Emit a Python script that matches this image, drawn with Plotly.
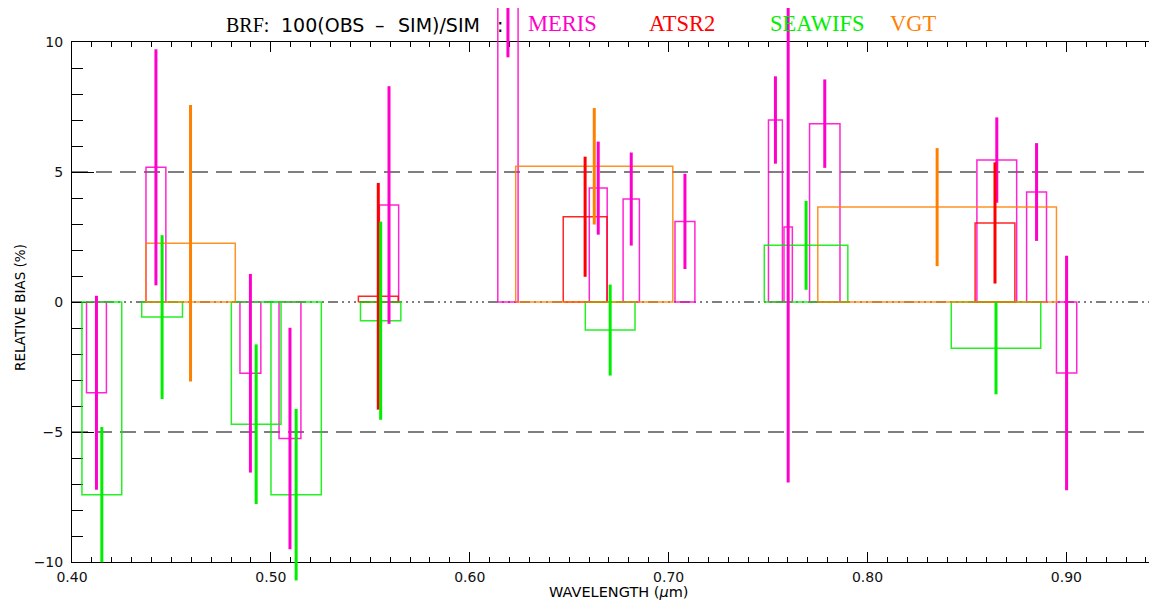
import plotly.graph_objects as go

# ---------------- data ----------------
# MERIS: band centre (um), band width (um), relative bias (%), 1-sigma error (%)
meris_wl = [0.4123, 0.4422, 0.4897, 0.5096, 0.5594, 0.6192, 0.6646, 0.6812,
            0.7082, 0.7537, 0.7601, 0.7785, 0.8650, 0.8850, 0.9001]
meris_bw = [0.0100, 0.0100, 0.0105, 0.0110, 0.0097, 0.0102, 0.0090, 0.0082,
            0.0100, 0.0070, 0.0042, 0.0153, 0.0200, 0.0100, 0.0102]
meris_bias = [-3.49, 5.18, -2.74, -5.25, 3.73, 11.44, 4.38, 3.96,
              3.10, 7.00, 2.88, 6.86, 5.46, 4.23, -2.73]
meris_err = [3.73, 4.54, 3.82, 4.26, 4.57, 2.03, 1.79, 1.79,
             1.83, 1.68, 9.82, 1.70, 1.64, 1.88, 4.51]

# ATSR2
atsr_wl = [0.5540, 0.6580, 0.8641]
atsr_bw = [0.0200, 0.0220, 0.0200]
atsr_bias = [0.22, 3.28, 3.04]
atsr_err = [4.36, 2.31, 2.33]

# SeaWiFS
seawifs_wl = [0.4150, 0.4453, 0.4926, 0.5127, 0.5552, 0.6706, 0.7691, 0.8646]
seawifs_bw = [0.0200, 0.0205, 0.0250, 0.0253, 0.0203, 0.0250, 0.0420, 0.0450]
seawifs_bias = [-7.41, -0.58, -4.70, -7.41, -0.72, -1.08, 2.18, -1.78]
seawifs_err = [2.60, 3.15, 3.07, 3.30, 3.81, 1.75, 1.71, 1.77]

# VGT
vgt_wl = [0.4596, 0.6626, 0.8350]
vgt_bw = [0.0450, 0.0790, 0.1200]
vgt_bias = [2.26, 5.22, 3.65]
vgt_err = [5.32, 2.24, 2.27]

sensor_names = ["MERIS", "ATSR2", "SEAWIFS", "VGT"]
x_ticks = [0.40, 0.50, 0.60, 0.70, 0.80, 0.90]
y_ticks = [-10, -5, 0, 5, 10]
ref_levels = [-5, 5]

# ---------------- geometry / style ----------------
OFF = 8                                   # default page body margin
SW, SH = 1157, 601                        # screen size
W, H = SW - OFF, SH - OFF                 # figure size
L, R, T, B = 72 - OFF, SW - OFF, 42 - OFF, 562 - OFF   # plot box in figure pixels
XMIN = 0.40
PPU_X = 1988.8                            # pixels per micron
YMIN, YMAX = -10, 10
xmax = XMIN + (R - L) / PPU_X
ppu_y = (B - T) / (YMAX - YMIN)
x2range = [XMIN - L / PPU_X, XMIN + (W - L) / PPU_X]
y2range = [YMIN - (H - B) / ppu_y, YMAX + T / ppu_y]

colors = {"MERIS": "#FF00CC", "ATSR2": "#FF0000", "SEAWIFS": "#00EE00", "VGT": "#FF8000"}


def rect_xy(wl, bw, val):
    xs, ys = [], []
    for c, w, v in zip(wl, bw, val):
        x0, x1 = c - w / 2, c + w / 2
        xs += [x0, x0, x1, x1, x0, None]
        ys += [0, v, v, 0, 0, None]
    return xs, ys


def err_xy(wl, val, err):
    xs, ys = [], []
    for c, v, e in zip(wl, val, err):
        xs += [c, c, None]
        ys += [v - e, v + e, None]
    return xs, ys


series = {
    "MERIS": (meris_wl, meris_bw, meris_bias, meris_err),
    "ATSR2": (atsr_wl, atsr_bw, atsr_bias, atsr_err),
    "SEAWIFS": (seawifs_wl, seawifs_bw, seawifs_bias, seawifs_err),
    "VGT": (vgt_wl, vgt_bw, vgt_bias, vgt_err),
}

fig = go.Figure()

# reference lines (on full-figure overlay axes)
fig.add_trace(go.Scatter(x=[XMIN, xmax], y=[0, 0], mode="lines", xaxis="x2", yaxis="y2",
                         line=dict(color="black", width=1.2, dash="10px,4px,2px,4px,2px,4px,2px,4px"),
                         hoverinfo="skip", showlegend=False))
for lv in ref_levels:
    fig.add_trace(go.Scatter(x=[XMIN, xmax], y=[lv, lv], mode="lines", xaxis="x2", yaxis="y2",
                             line=dict(color="black", width=1.2, dash="16px,8px"),
                             hoverinfo="skip", showlegend=False))

for name in sensor_names:
    wl, bw, val, err = series[name]
    xs, ys = rect_xy(wl, bw, val)
    fig.add_trace(go.Scatter(x=xs, y=ys, mode="lines", xaxis="x2", yaxis="y2",
                             line=dict(color=colors[name], width=1.5),
                             opacity=0.85, name=name, showlegend=False))
for name in sensor_names:
    wl, bw, val, err = series[name]
    xs, ys = err_xy(wl, val, err)
    fig.add_trace(go.Scatter(x=xs, y=ys, mode="lines", xaxis="x2", yaxis="y2",
                             line=dict(color=colors[name], width=3),
                             name=name, showlegend=False))

# dummy trace to instantiate main axes
fig.add_trace(go.Scatter(x=[XMIN], y=[0], mode="markers", marker=dict(opacity=0),
                         hoverinfo="skip", showlegend=False))

tickfont = dict(family="DejaVu Sans", size=14, color="#111111")
fig.update_layout(
    width=W, height=H,
    margin=dict(l=0, r=0, t=0, b=0, pad=0),
    paper_bgcolor="white", plot_bgcolor="rgba(0,0,0,0)",
    font=dict(family="DejaVu Sans", color="black"),
    showlegend=False,
    xaxis=dict(domain=[L / W, R / W], range=[XMIN, xmax], tickmode="array", tickvals=x_ticks,
               tickformat=".2f", ticks="inside", ticklen=10, tickwidth=1, tickcolor="black",
               minor=dict(tick0=0.40, dtick=0.01, ticks="inside", ticklen=5, tickcolor="black", tickwidth=1),
               showline=True, linecolor="black", linewidth=1, mirror="ticks",
               showgrid=False, zeroline=False, tickfont=tickfont, ticklabelstandoff=2,
               automargin=False, anchor="y"),
    yaxis=dict(domain=[(H - B) / H, (H - T) / H], range=[YMIN, YMAX], tickmode="array", tickvals=y_ticks,
               ticks="inside", ticklen=22, tickwidth=1, tickcolor="black",
               minor=dict(tick0=0, dtick=1, ticks="inside", ticklen=11, tickcolor="black", tickwidth=1),
               showline=True, linecolor="black", linewidth=1,
               showgrid=False, zeroline=False, tickfont=tickfont, ticklabelstandoff=5,
               automargin=False, anchor="x"),
    xaxis2=dict(domain=[0, 1], range=x2range, visible=False, anchor="y2", showgrid=False,
                zeroline=False, automargin=False),
    yaxis2=dict(domain=[0, 1], range=y2range, visible=False, anchor="x2", showgrid=False,
                zeroline=False, automargin=False),
)


def ann(text, sx, sy, size, color="black", family="DejaVu Sans", xanchor="left", angle=0):
    # sx, sy given in screen pixels of the reference picture
    px, py = sx - OFF, sy - OFF
    fig.add_annotation(text=text, x=px / W, y=1 - py / H, xref="paper", yref="paper",
                       xanchor=xanchor, yanchor="middle", showarrow=False, borderpad=0,
                       textangle=angle, font=dict(family=family, size=size, color=color))


ann("BRF:", 225, 25, 20, family="Liberation Serif")
ann("100(OBS", 280, 25, 19)
ann("\u2013", 380, 25, 19, xanchor="center")
ann("SIM)/SIM", 397, 25, 19)
ann(":", 496, 25, 19)
ann("MERIS", 527, 23, 22.5, color=colors["MERIS"], family="Liberation Serif")
ann("ATSR2", 648, 23, 22.5, color=colors["ATSR2"], family="Liberation Serif")
ann("SEAWIFS", 769, 23, 22.5, color=colors["SEAWIFS"], family="Liberation Serif")
ann("VGT", 889, 23, 22.5, color=colors["VGT"], family="Liberation Serif")
ann("RELATIVE BIAS (%)", 20, 308, 13.5, xanchor="center", angle=-90)
ann("WAVELENGTH (<i>\u03bc</i>m)", 618, 592, 14.5, xanchor="center")

fig.write_html("out.html")
